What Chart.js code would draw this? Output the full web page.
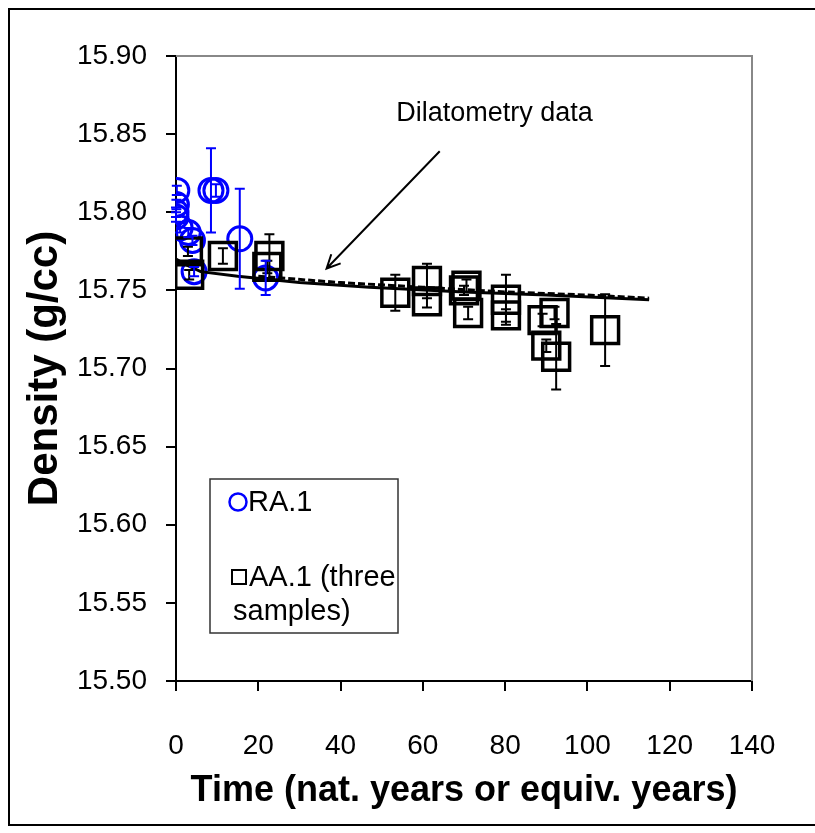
<!DOCTYPE html>
<html>
<head>
<meta charset="utf-8">
<script src="https://cdn.jsdelivr.net/npm/chart.js@4.4.1/dist/chart.umd.min.js"></script>
<style>
  html, body { margin: 0; padding: 0; background: #fff; }
  #wrap { width: 815px; height: 833px; position: relative; }
</style>
</head>
<body>
<div id="wrap"><canvas id="densityChart" width="815" height="833"></canvas></div>
<script>
// RA.1 samples (blue circles)
const raTime = [0.2, 0.1, 0, 0, 1, 3, 4, 4.4, 8.5, 9.7, 15.5, 21.8];
const raDensity = [15.814, 15.805, 15.800, 15.797, 15.790, 15.787, 15.782, 15.762, 15.814, 15.814, 15.783, 15.758];
const raErr = [0.003, 0.003, 0.003, 0.003, 0.003, 0.003, 0.003, 0.003, 0.027, 0.004, 0.032, 0.011];

// AA.1 samples (black squares)
const aaTime = [2.9, 3.2, 11.4, 22.7, 22.2, 53.3, 61, 61, 70.6, 70, 71, 80.2, 80.2, 89.1, 92, 90, 92.4, 104.3];
const aaDensity = [15.775, 15.760, 15.772, 15.772, 15.765, 15.7485, 15.756, 15.743, 15.753, 15.750, 15.7355, 15.744, 15.734, 15.731, 15.7355, 15.7146, 15.7075, 15.7246];
const aaErr = [0.003, 0.003, 0.005, 0.014, 0.004, 0.0115, 0.011, 0.004, 0.004, 0.003, 0.004, 0.016, 0.004, 0.004, 0.004, 0.004, 0.021, 0.023];

// dilatometry curves
const dilSolidTime = [0, 2, 6, 15, 30, 47, 70, 90, 115];
const dilSolidDensity = [15.770, 15.767, 15.762, 15.759, 15.755, 15.752, 15.749, 15.747, 15.744];
const dilDashTime = [20, 40, 60, 80, 100, 115];
const dilDashDensity = [15.759, 15.755, 15.752, 15.749, 15.747, 15.745];

const xTicks = [0, 20, 40, 60, 80, 100, 120, 140];
const yTicks = [15.50, 15.55, 15.60, 15.65, 15.70, 15.75, 15.80, 15.85, 15.90];

// annotation: label and arrow, in data units
const noteLabel = 'Dilatometry data';
const notePos = [77.4, 15.863];
const arrowFrom = [64.1, 15.839];
const arrowTo = [36.6, 15.764];

const FONT = "'Liberation Sans', Arial, sans-serif";

function toPoints(xs, ys) {
    return xs.map((x, i) => ({x: x, y: ys[i]}));
}

const pageFrame = {
    id: 'pageFrame',
    beforeDraw(chart) {
        const ctx = chart.ctx;
        ctx.save();
        ctx.fillStyle = '#fff';
        ctx.fillRect(0, 0, chart.width, chart.height);
        // outer frame, right side falls outside the picture
        ctx.strokeStyle = '#000';
        ctx.lineWidth = 2;
        ctx.beginPath();
        ctx.moveTo(chart.width, 9);
        ctx.lineTo(9, 9);
        ctx.lineTo(9, 825);
        ctx.lineTo(chart.width, 825);
        ctx.stroke();
        ctx.restore();
    },
    beforeDatasetsDraw(chart) {
        const {ctx, chartArea: a} = chart;
        ctx.save();
        ctx.strokeStyle = '#888';
        ctx.lineWidth = 2;
        ctx.beginPath();
        ctx.moveTo(a.left, a.top);
        ctx.lineTo(a.right, a.top);
        ctx.lineTo(a.right, a.bottom);
        ctx.stroke();
        ctx.restore();
    }
};

const errorBars = {
    id: 'errorBars',
    afterDatasetsDraw(chart) {
        const ctx = chart.ctx;
        const xs = chart.scales.x, ys = chart.scales.y;
        ctx.save();
        chart.data.datasets.forEach(ds => {
            if (!ds.errors) return;
            ctx.strokeStyle = ds.borderColor;
            ctx.lineWidth = 2;
            ds.data.forEach((p, i) => {
                const px = xs.getPixelForValue(p.x);
                const top = ys.getPixelForValue(p.y + ds.errors[i]);
                const bot = ys.getPixelForValue(p.y - ds.errors[i]);
                ctx.beginPath();
                ctx.moveTo(px, top); ctx.lineTo(px, bot);
                ctx.moveTo(px - 5, top); ctx.lineTo(px + 5, top);
                ctx.moveTo(px - 5, bot); ctx.lineTo(px + 5, bot);
                ctx.stroke();
            });
        });
        ctx.restore();
    }
};

const notes = {
    id: 'notes',
    afterDraw(chart) {
        const ctx = chart.ctx;
        const xs = chart.scales.x, ys = chart.scales.y;
        ctx.save();
        // annotation text
        ctx.fillStyle = '#000';
        ctx.font = '27px ' + FONT;
        ctx.textAlign = 'center';
        ctx.textBaseline = 'middle';
        ctx.fillText(noteLabel, xs.getPixelForValue(notePos[0]), ys.getPixelForValue(notePos[1]));
        // arrow
        const x1 = xs.getPixelForValue(arrowFrom[0]), y1 = ys.getPixelForValue(arrowFrom[1]);
        const x2 = xs.getPixelForValue(arrowTo[0]), y2 = ys.getPixelForValue(arrowTo[1]);
        const ang = Math.atan2(y2 - y1, x2 - x1);
        ctx.strokeStyle = '#000';
        ctx.lineWidth = 2;
        ctx.beginPath();
        ctx.moveTo(x1, y1); ctx.lineTo(x2, y2);
        ctx.moveTo(x2 - 15 * Math.cos(ang - 0.45), y2 - 15 * Math.sin(ang - 0.45));
        ctx.lineTo(x2, y2);
        ctx.lineTo(x2 - 15 * Math.cos(ang + 0.45), y2 - 15 * Math.sin(ang + 0.45));
        ctx.stroke();

        // legend box
        ctx.lineWidth = 1.5;
        ctx.strokeStyle = '#333';
        ctx.strokeRect(210, 479, 188, 154);
        ctx.font = '29px ' + FONT;
        ctx.textAlign = 'left';
        ctx.strokeStyle = '#0000ff';
        ctx.lineWidth = 2.5;
        ctx.beginPath();
        ctx.arc(238, 502, 8.5, 0, Math.PI * 2);
        ctx.stroke();
        ctx.fillText('RA.1', 248, 503);
        ctx.strokeStyle = '#000';
        ctx.lineWidth = 2;
        ctx.strokeRect(232, 570, 14, 14);
        ctx.fillText('AA.1 (three', 249, 578);
        ctx.fillText('samples)', 233, 612);
        ctx.restore();
    }
};

new Chart(document.getElementById('densityChart').getContext('2d'), {
    type: 'scatter',
    data: {
        datasets: [
            {
                type: 'line',
                label: 'Dilatometry (dashed)',
                data: toPoints(dilDashTime, dilDashDensity),
                borderColor: '#000',
                borderWidth: 3,
                borderDash: [7, 3],
                pointRadius: 0,
                fill: false,
                tension: 0
            },
            {
                type: 'line',
                label: 'Dilatometry',
                data: toPoints(dilSolidTime, dilSolidDensity),
                borderColor: '#000',
                borderWidth: 3,
                pointRadius: 0,
                fill: false,
                tension: 0
            },
            {
                label: 'AA.1 (three samples)',
                data: toPoints(aaTime, aaDensity),
                errors: aaErr,
                pointStyle: 'rect',
                pointRadius: 19,
                pointBorderWidth: 3.5,
                borderColor: '#000',
                backgroundColor: 'rgba(0,0,0,0)'
            },
            {
                label: 'RA.1',
                data: toPoints(raTime, raDensity),
                errors: raErr,
                pointStyle: 'circle',
                pointRadius: 12,
                pointBorderWidth: 3,
                borderColor: '#0000ff',
                backgroundColor: 'rgba(0,0,0,0)'
            }
        ]
    },
    options: {
        responsive: false,
        animation: false,
        devicePixelRatio: 1,
        layout: {padding: {left: 0, right: 63, top: 56, bottom: 0}},
        plugins: {legend: {display: false}, tooltip: {enabled: false}},
        scales: {
            x: {
                type: 'linear',
                min: 0,
                max: 140,
                afterBuildTicks: axis => { axis.ticks = xTicks.map(v => ({value: v})); },
                afterFit: axis => { axis.height = 152; },
                border: {display: true, color: '#000', width: 2},
                grid: {drawOnChartArea: false, drawTicks: true, tickLength: 10, color: '#000', lineWidth: 2},
                ticks: {color: '#000', font: {family: FONT, size: 28}, padding: 38, maxRotation: 0},
                title: {display: true, text: 'Time (nat. years or equiv. years)', color: '#000',
                    font: {family: FONT, size: 36, weight: 'bold'}, padding: {top: 0, bottom: 20}}
            },
            y: {
                type: 'linear',
                min: 15.5,
                max: 15.9,
                afterBuildTicks: axis => { axis.ticks = yTicks.map(v => ({value: v})); },
                afterFit: axis => { axis.width = 176; },
                border: {display: true, color: '#000', width: 2},
                grid: {drawOnChartArea: false, drawTicks: true, tickLength: 10, color: '#000', lineWidth: 2},
                ticks: {color: '#000', font: {family: FONT, size: 28}, padding: 19,
                    callback: v => Number(v).toFixed(2)},
                title: {display: true, text: 'Density (g/cc)', color: '#000',
                    font: {family: FONT, size: 42, weight: 'bold'}, padding: {top: 20, bottom: 0}}
            }
        }
    },
    plugins: [pageFrame, errorBars, notes]
});
</script>
</body>
</html>
